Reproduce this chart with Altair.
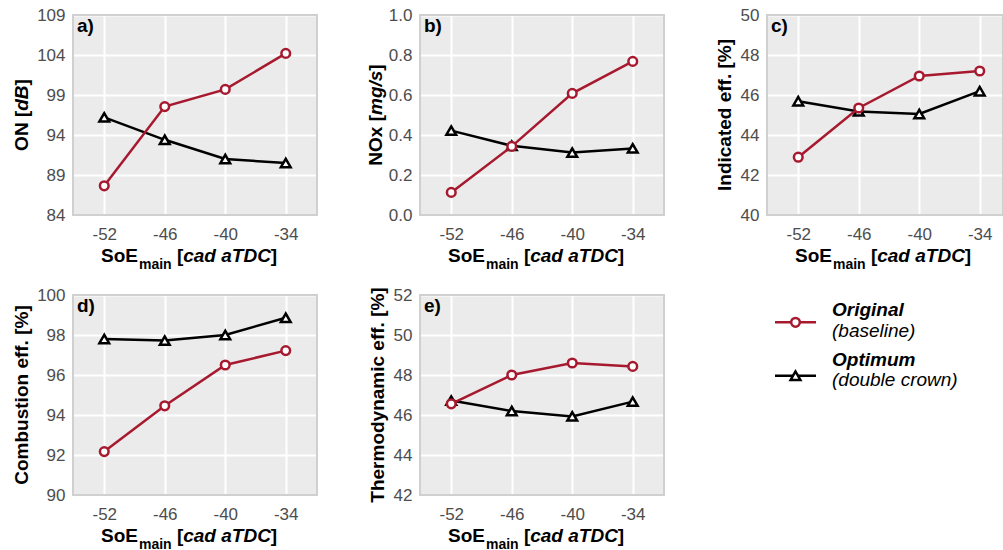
import altair as alt
import pandas as pd

# ---- data -------------------------------------------------------------
soe = [-52, -46, -40, -34]

on_original = [87.65, 97.55, 99.7, 104.2]
on_optimum = [96.2, 93.4, 91.0, 90.5]

nox_original = [0.113, 0.343, 0.608, 0.768]
nox_optimum = [0.422, 0.346, 0.312, 0.333]

ind_original = [42.89, 45.35, 46.95, 47.2]
ind_optimum = [45.69, 45.18, 45.05, 46.19]

comb_original = [92.17, 94.46, 96.5, 97.22]
comb_optimum = [97.8, 97.72, 98.0, 98.86]

thermo_original = [46.56, 48.0, 48.6, 48.43]
thermo_optimum = [46.72, 46.2, 45.93, 46.67]

on_ticks = [84, 89, 94, 99, 104, 109]
nox_ticks = [0.0, 0.2, 0.4, 0.6, 0.8, 1.0]
ind_ticks = [40, 42, 44, 46, 48, 50]
comb_ticks = [90, 92, 94, 96, 98, 100]
thermo_ticks = [42, 44, 46, 48, 50, 52]

# ---- style ------------------------------------------------------------
FONT = "Liberation Sans"
RED = "#A6192E"
BLACK = "#000000"
PANEL_BG = "#EBEBEB"
FRAME = "#D0D0D0"
LABEL_GREY = "#4D4D4D"
W, H = 244, 200
W_LAST = 236
PX_PER_UNIT = W / 24.2
TITLE_SIZE = 19

# Arial/Liberation Sans bold advance widths (per 1000 em)
BOLD_W = {
    "S": 667, "o": 611, "E": 667, "m": 889, "a": 556, "i": 278, "n": 611,
    " ": 278, "[": 333, "]": 333, "c": 556, "d": 611, "T": 611, "D": 722,
    "C": 722, "O": 778, "N": 722, "B": 722, "x": 556, "g": 611, "/": 278,
    "s": 556, "I": 278, "t": 333, "e": 556, "f": 333, ".": 278, "%": 889,
    "b": 611, "u": 611, "h": 611, "r": 389, "y": 556,
}


def text_width(s, size):
    return sum(BOLD_W[ch] for ch in s) * size / 1000.0


ONE = alt.Data(values=[{"k": 0}])


def label(txt, x, y, size=TITLE_SIZE, italic=False, bold=True, angle=0,
          color=BLACK, align="left"):
    return alt.Chart(ONE).mark_text(
        text=txt, font=FONT, fontSize=size,
        fontWeight="bold" if bold else "normal",
        fontStyle="italic" if italic else "normal",
        align=align, baseline="alphabetic", angle=angle, color=color,
    ).encode(x=alt.value(x), y=alt.value(y))


def x_title(height):
    y = height + 47
    x = 28.0
    parts = [label("SoE", x, y)]
    x += text_width("SoE", TITLE_SIZE) + 1
    parts.append(label("main", x, y + 7, size=14))
    x += text_width("main", 14) + text_width(" ", TITLE_SIZE)
    parts.append(label("[", x, y))
    x += text_width("[", TITLE_SIZE)
    parts.append(label("cad aTDC", x, y, italic=True))
    x += text_width("cad aTDC", TITLE_SIZE)
    parts.append(label("]", x, y))
    return parts


def y_title(segments, x_off, height):
    total = sum(text_width(s, TITLE_SIZE) for s, _ in segments)
    y = height / 2 + total / 2
    parts = []
    for s, it in segments:
        parts.append(label(s, x_off, y, italic=it, angle=270))
        y -= text_width(s, TITLE_SIZE)
    return parts


def panel(tag, original, optimum, ticks, fmt, title_segments, title_x, width=W):
    df = pd.DataFrame({
        "soe": soe * 2,
        "value": original + optimum,
        "series": ["Original"] * len(soe) + ["Optimum"] * len(soe),
    })
    x_dom = [-55.1, -55.1 + width / PX_PER_UNIT]
    x_enc = alt.X(
        "soe:Q",
        scale=alt.Scale(domain=x_dom, nice=False, zero=False),
        axis=alt.Axis(
            values=soe, title=None, grid=True, gridColor="white", gridWidth=2,
            domain=False, ticks=False, tickSize=0, labelFont=FONT,
            labelFontSize=17, labelColor=LABEL_GREY, labelPadding=11,
            labelFlush=False, labelOverlap=False,
            labelExpr="'' + datum.value",
        ),
    )
    y_enc = alt.Y(
        "value:Q",
        scale=alt.Scale(domain=[ticks[0], ticks[-1]], nice=False, zero=False),
        axis=alt.Axis(
            values=ticks, format=fmt, title=None, grid=True, gridColor="white",
            gridWidth=2, domain=False, ticks=False, tickSize=0, labelFont=FONT,
            labelFontSize=17, labelColor=LABEL_GREY, labelPadding=8,
            labelFlush=False, labelOverlap=False, labelBaseline="middle",
        ),
    )
    base = alt.Chart(df).encode(x=x_enc, y=y_enc)

    frame = alt.Chart(ONE).mark_rect(
        fillOpacity=0, stroke=FRAME, strokeWidth=2
    ).encode(x=alt.value(0), x2=alt.value(width), y=alt.value(0), y2=alt.value(H))

    opt = base.transform_filter(alt.datum.series == "Optimum")
    org = base.transform_filter(alt.datum.series == "Original")
    opt_line = opt.mark_line(color=BLACK, strokeWidth=2.5)
    opt_pts = opt.mark_point(shape="triangle-up", filled=False, fill="white",
                             stroke=BLACK, strokeWidth=2.5, size=95, opacity=1)
    org_line = org.mark_line(color=RED, strokeWidth=2.5)
    org_pts = org.mark_point(shape="circle", filled=False, fill="white",
                             stroke=RED, strokeWidth=2.5, size=75, opacity=1)

    layers = [frame, opt_line, opt_pts, org_line, org_pts, label(tag, 4, 17)]
    layers += x_title(H)
    layers += y_title(title_segments, title_x, H)
    return alt.layer(*layers).properties(
        width=width, height=H, view=alt.ViewBackground(fill=PANEL_BG)
    )


def legend_panel():
    parts = []
    rows = [
        ("Original", "(baseline)", RED, "circle", 75, 27.3, 20.7, 42),
        ("Optimum", "(double crown)", BLACK, "triangle-up", 95, 80.7, 71, 91),
    ]
    for name, note, col, shape, size, ly, t1, t2 in rows:
        parts.append(
            alt.Chart(ONE).mark_rule(color=col, strokeWidth=2.5).encode(
                x=alt.value(8), x2=alt.value(49), y=alt.value(ly))
        )
        parts.append(
            alt.Chart(ONE).mark_point(
                shape=shape, filled=False, fill="white", stroke=col,
                strokeWidth=2.5, size=size, opacity=1,
            ).encode(x=alt.value(28.5), y=alt.value(ly))
        )
        parts.append(label(name, 65, t1, italic=True))
        parts.append(label(note, 65, t2, italic=True, bold=False))
    return alt.layer(*parts).properties(width=W_LAST, height=H)


p_a = panel("a)", on_original, on_optimum, on_ticks, "d",
            [("ON [", False), ("dB", True), ("]", False)], -45.5)
p_b = panel("b)", nox_original, nox_optimum, nox_ticks, ".1f",
            [("NOx [", False), ("mg/s", True), ("]", False)], -38)
p_c = panel("c)", ind_original, ind_optimum, ind_ticks, "d",
            [("Indicated eff. [%]", False)], -36, width=W_LAST)
p_d = panel("d)", comb_original, comb_optimum, comb_ticks, "d",
            [("Combustion eff. [%]", False)], -44.7)
p_e = panel("e)", thermo_original, thermo_optimum, thermo_ticks, "d",
            [("Thermodynamic eff. [%]", False)], -36)

chart = alt.concat(
    p_a, p_b, p_c, p_d, p_e, legend_panel(),
    columns=3, spacing={"row": 80, "column": 103}, bounds="flush",
).properties(
    autosize=alt.AutoSizeParams(type="none"),
    padding={"left": 73, "top": 15, "right": 930, "bottom": 535},
    background="white",
).configure_view(strokeWidth=0)

chart.save("out.html", embed_options={"renderer": "svg", "actions": False})
